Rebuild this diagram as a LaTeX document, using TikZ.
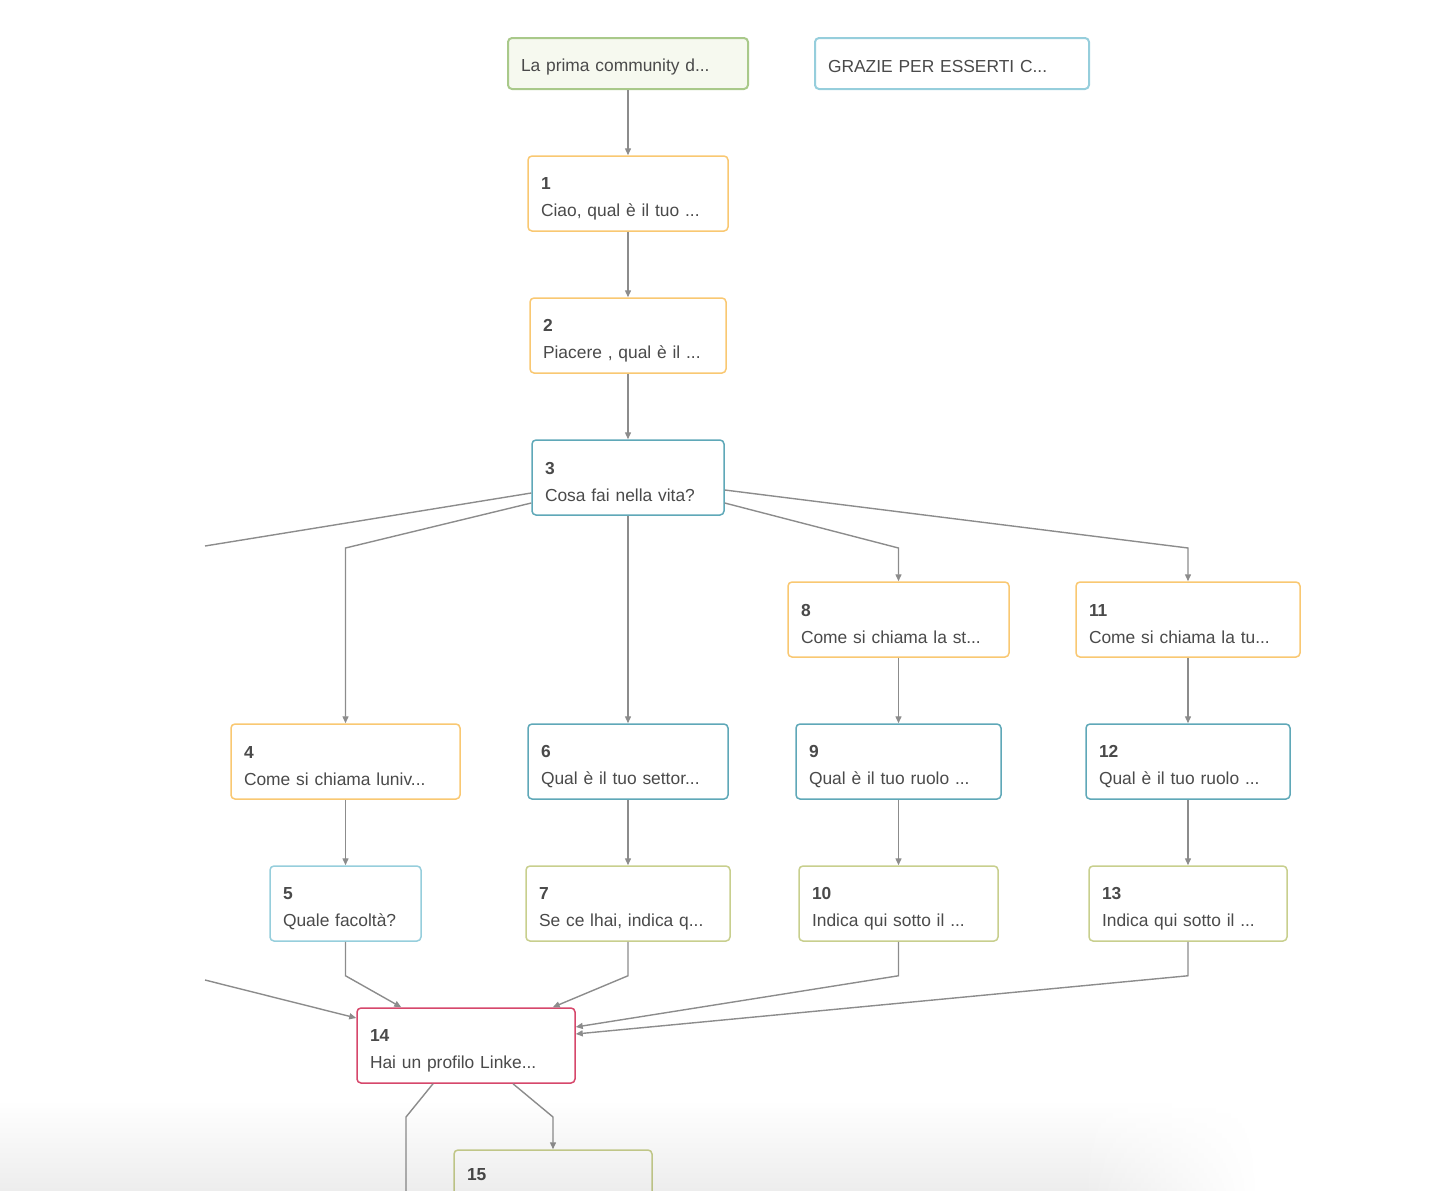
\documentclass[tikz,border=0pt]{standalone}
\usepackage{fontspec}
\setmainfont{Liberation Sans}
\usetikzlibrary{positioning,calc,arrows.meta,fadings}
\tikzset{>={Triangle[length=3.5pt,width=3pt]}}
\definecolor{edgegray}{HTML}{8C8C8C}
\definecolor{txtgray}{HTML}{4A4A4A}
\definecolor{qorange}{HTML}{F9C872}
\definecolor{qteal}{HTML}{5FA8B8}
\definecolor{qblue}{HTML}{96CEDC}
\definecolor{qolive}{HTML}{C8CF8E}
\definecolor{qred}{HTML}{D6476B}
\definecolor{qgreen}{HTML}{A9C98A}
\definecolor{qgreenfill}{HTML}{F6F9EF}
\newcommand*{\qn}[2]{\rule{0pt}{11pt}{\bfseries #1}\\#2}
\newcommand*{\tl}[1]{\rule[-1pt]{0pt}{11pt}#1}
\pgfdeclarehorizontalshading{bottomshadow}{100bp}{color(0bp)=(black);
  color(25bp)=(black); color(68bp)=(black); color(75bp)=(white);
  color(100bp)=(white)}
\tikzset{
  qbox/.style={draw,line width=.75pt,rounded corners=2pt,fill=white,
    align=left,inner xsep=6.5pt,minimum height=37.5pt,text width=#1,
    text=txtgray,font=\fontsize{8.7}{13.5}\selectfont},
  tbox/.style={qbox=#1,minimum height=25.5pt,line width=1pt},
  link/.style={->,edgegray,line width=.7pt}
}

\begin{document}
\begin{tikzpicture}[x=.5pt,y=-.5pt]
\useasboundingbox (0,0) rectangle (1452,1190);
\clip (0,0) rectangle (1452,1190);
% Draw the two start boxes
\node[tbox=107pt,draw=qgreen,fill=qgreenfill] (top) at (628,63.5)
  {\tl{La prima community d...}};
\node[tbox=124pt,draw=qblue] (thanks) at (952,63.5)
  {\tl{GRAZIE PER ESSERTI C...}};

% Draw the question boxes
\node[qbox=87pt,draw=qorange] (n1) at (628,193.5) {\qn{1}{Ciao, qual è il tuo ...}};
\node[qbox=85pt,draw=qorange] (n2) at (628,335.5) {\qn{2}{Piacere , qual è il ...}};
\node[qbox=83pt,draw=qteal] (n3) at (628,477.5) {\qn{3}{Cosa fai nella vita?}};
\node[qbox=97.5pt,draw=qorange] (n8) at (898.5,619.5) {\qn{8}{Come si chiama la st...}};
\node[qbox=99pt,draw=qorange] (n11) at (1188,619.5) {\qn{11}{Come si chiama la tu...}};
\node[qbox=101.5pt,draw=qorange] (n4) at (345.5,761.5) {\qn{4}{Come si chiama luniv...}};
\node[qbox=87pt,draw=qteal] (n6) at (628,761.5) {\qn{6}{Qual è il tuo settor...}};
\node[qbox=89.5pt,draw=qteal] (n9) at (898.5,761.5) {\qn{9}{Qual è il tuo ruolo ...}};
\node[qbox=89pt,draw=qteal] (n12) at (1188,761.5) {\qn{12}{Qual è il tuo ruolo ...}};
\node[qbox=62.5pt,draw=qblue] (n5) at (345.5,903.5) {\qn{5}{Quale facoltà?}};
\node[qbox=89pt,draw=qolive] (n7) at (628,903.5) {\qn{7}{Se ce lhai, indica q...}};
\node[qbox=86.5pt,draw=qolive] (n10) at (898.5,903.5) {\qn{10}{Indica qui sotto il ...}};
\node[qbox=86pt,draw=qolive] (n13) at (1188,903.5) {\qn{13}{Indica qui sotto il ...}};
\node[qbox=96pt,draw=qred] (n14) at (466,1045.5) {\qn{14}{Hai un profilo Linke...}};
\node[qbox=86pt,draw=qolive] (n15) at (553,1187.5) {\qn{15}{\strut}};

% Free ends of the links that leave the picture
\coordinate (lout) at (205,546);
\coordinate (lin) at (205,980);
\coordinate (dout) at (406,1200);

% Draw the straight links
\foreach \a/\b in {top/n1,n1/n2,n2/n3,n3/n6,n8/n9,n11/n12,n4/n5,n6/n7,n9/n10,n12/n13}
  \draw[link] (\a.south) -- (\b.north);

% Draw the links fanning out of 3
\draw[edgegray,line width=.7pt] ($(n3.west)+(0,15.5)$) -- (lout);
\draw[link] ($(n3.west)+(0,25.5)$) -- (n4.north |- 0,548) -- (n4.north);
\draw[link] ($(n3.east)+(0,25.5)$) -- (n8.north |- 0,548) -- (n8.north);
\draw[link] ($(n3.east)+(0,12.5)$) -- (n11.north |- 0,548) -- (n11.north);

% Draw the links joining in 14
\draw[link] (lin) -- ($(n14.west)+(0,-27.5)$);
\draw[link] (n5.south) -- +(0,34) -- ($(n14.north west)+(45,0)$);
\draw[link] (n7.south) -- +(0,34) -- ($(n14.north east)+(-23,0)$);
\draw[link] (n10.south) -- +(0,34) -- ($(n14.east)+(0,-18.5)$);
\draw[link] (n13.south) -- +(0,34) -- ($(n14.east)+(0,-11.5)$);

% Draw the links leaving 14
\draw[link] ($(n14.south)+(47,0)$) -- (n15.north |- 0,1117) -- (n15.north);
\draw[edgegray,line width=.7pt] ($(n14.south)+(-33,0)$) -- (dout |- 0,1117) -- (dout);

% Shadow along the bottom edge
\shade[shading=bottomshadow,opacity=.07,path fading=north]
  (0,1100) rectangle (1260,1190);
\end{tikzpicture}
\end{document}
